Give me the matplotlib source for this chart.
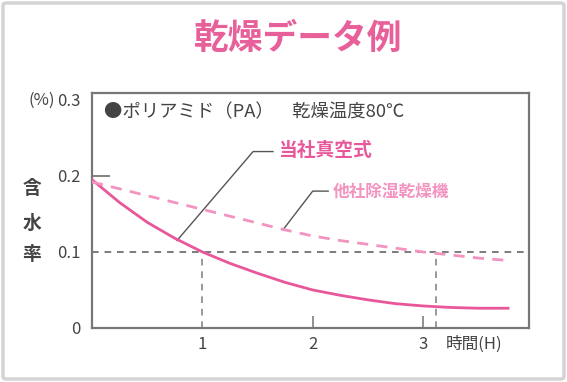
import matplotlib
matplotlib.use('agg')
import matplotlib.pyplot as plt
from matplotlib.patches import FancyBboxPatch

plt.rcParams['font.family'] = ['Noto Sans CJK JP', 'DejaVu Sans']

# data
hours = [0, 0.25, 0.5, 0.75, 1.0, 1.25, 1.5, 1.75, 2.0, 2.25, 2.5, 2.75, 3.0, 3.25, 3.5, 3.77]
vacuum = [0.195, 0.165, 0.139, 0.118, 0.100, 0.085, 0.072, 0.060, 0.050, 0.043,
          0.037, 0.032, 0.029, 0.027, 0.026, 0.026]
hours2 = [0, 0.25, 0.5, 0.75, 1.0, 1.25, 1.5, 1.75, 2.0, 2.25, 2.5, 2.75, 3.0, 3.25, 3.5, 3.75]
dehumid = [0.192, 0.183, 0.174, 0.165, 0.156, 0.147, 0.138, 0.129, 0.121, 0.115,
           0.110, 0.105, 0.100, 0.096, 0.092, 0.089]
yticks = [0, 0.1, 0.2, 0.3]
ylabels = ['0', '0.1', '0.2', '0.3']
xticks = [1, 2, 3]
xlabels = ['1', '2', '3']

W, H = 567, 382
def px(x, y):
    return x / W, 1 - y / H

pink = '#e8579a'
pink2 = '#f293c0'
txt = '#444444'

fig = plt.figure(figsize=(W / 100, H / 100), dpi=100)
fig.patch.set_facecolor('white')
fig.patches.append(FancyBboxPatch((3 / W, 3 / H), 1 - 6 / W, 1 - 6 / H,
                                  boxstyle='round,pad=0,rounding_size=0.006',
                                  transform=fig.transFigure, fill=False,
                                  edgecolor='#d4d4d4', linewidth=2.5))

l, b = px(92, 328)
r, t = px(529, 93)
ax = fig.add_axes([l, b, r - l, t - b])
ax.set_xlim(0, 3.96)
ax.set_ylim(0, 0.309)

ax.plot(hours, vacuum, color=pink, lw=2, zorder=4)
ax.plot(hours2, dehumid, color=pink2, lw=2, dashes=(4, 3), zorder=4)

ax.axhline(0.1, color='#666666', lw=1.2, dashes=(4, 3.5), zorder=2)
ax.plot([1, 1], [0, 0.1], color='#888888', lw=1.2, dashes=(4, 3.5), zorder=2)
ax.plot([3.12, 3.12], [0, 0.1], color='#888888', lw=1.2, dashes=(4, 3.5), zorder=2)

for s in ['top', 'right', 'left', 'bottom']:
    ax.spines[s].set_color('#777777')
    ax.spines[s].set_linewidth(1.6)

ax.set_yticks(yticks)
ax.set_yticklabels(ylabels)
ax.set_xticks(xticks)
ax.set_xticklabels(xlabels)
ax.tick_params(axis='y', direction='in', length=13, width=1.3, color='#777777',
               labelsize=12, labelcolor=txt, pad=8)
ax.tick_params(axis='x', direction='in', length=9, width=1.3, color='#888888',
               labelsize=12, labelcolor=txt, pad=6)
for i, tk in enumerate(ax.yaxis.get_major_ticks()):
    if yticks[i] != 0.2:
        tk.tick1line.set_visible(False)
ax.xaxis.get_major_ticks()[0].tick1line.set_visible(False)

# leader lines
ax.plot([0.77, 1.46, 1.64], [0.115, 0.232, 0.232], color='#555555', lw=1, zorder=3)
ax.plot([1.73, 2.0, 2.14], [0.129, 0.180, 0.180], color='#555555', lw=1, zorder=3)

fig.text(*px(298, 38), '乾燥データ例', color='#e8609a', fontsize=25,
         fontweight='bold', ha='center', va='center')
fig.text(*px(104, 112), '●ポリアミド（PA）　乾燥温度80℃', color=txt,
         fontsize=13.2, ha='left', va='center')
fig.text(*px(278, 151), '当社真空式', color=pink, fontsize=13.5,
         fontweight='bold', ha='left', va='center')
fig.text(*px(333, 192), '他社除湿乾燥機', color=pink2, fontsize=12,
         fontweight='bold', ha='left', va='center')
fig.text(*px(55, 100), '(%)', color=txt, fontsize=12, ha='right', va='center')
for ch, y in zip('含水率', [188, 223, 254]):
    fig.text(*px(32, y), ch, color=txt, fontsize=13.5, fontweight='bold',
             ha='center', va='center')
fig.text(*px(446, 344), '時間(H)', color=txt, fontsize=12,
         ha='left', va='center')

fig.savefig('out.png', dpi=100)
